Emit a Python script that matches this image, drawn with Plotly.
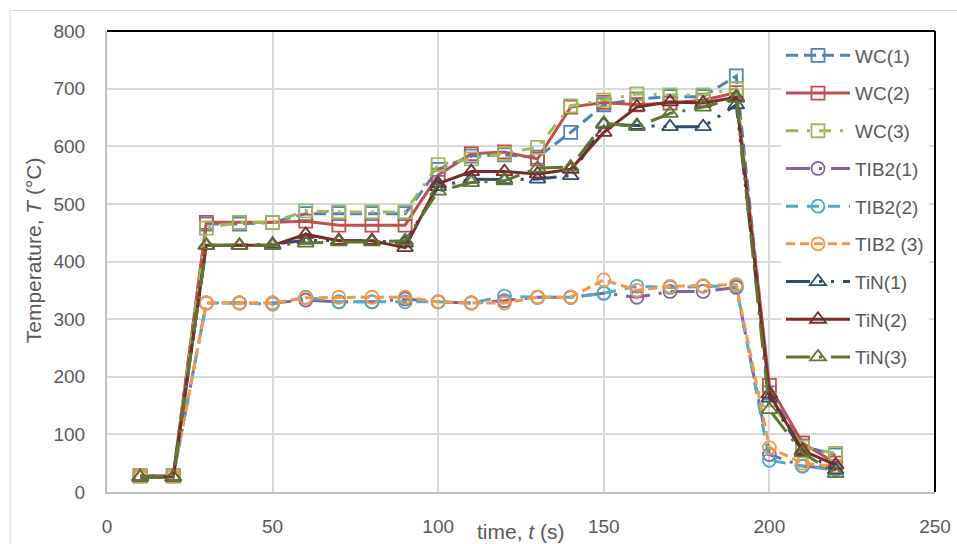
import plotly.graph_objects as go

time_s = [10, 20, 30, 40, 50, 60, 70, 80, 90, 100, 110, 120, 130, 140, 150, 160, 170, 180, 190, 200, 210, 220]

wc_1 = [28, 28, 465, 465, 468, 483, 483, 483, 483, 560, 583, 585, 581, 624, 672, 682, 686, 686, 722, 172, 80, 64]
wc_2 = [28, 28, 468, 468, 468, 470, 463, 463, 463, 550, 587, 590, 578, 668, 676, 672, 675, 680, 693, 185, 85, 50]
wc_3 = [28, 28, 458, 468, 468, 488, 486, 486, 486, 568, 578, 587, 598, 670, 680, 691, 689, 689, 700, 160, 78, 67]
tib2_1 = [28, 28, 328, 328, 328, 333, 330, 330, 335, 330, 328, 332, 338, 338, 345, 338, 348, 348, 355, 65, 45, 40]
tib2_2 = [28, 28, 328, 328, 326, 338, 330, 330, 330, 330, 328, 340, 338, 338, 345, 357, 355, 357, 358, 55, 45, 38]
tib2_3 = [28, 28, 328, 328, 328, 337, 338, 338, 338, 330, 328, 328, 338, 338, 368, 350, 357, 358, 360, 77, 50, 45]
tin_1 = [26, 26, 428, 428, 430, 437, 436, 436, 432, 530, 543, 542, 543, 549, 638, 636, 634, 634, 672, 163, 70, 38]
tin_2 = [26, 26, 428, 428, 428, 447, 436, 436, 424, 535, 556, 556, 552, 560, 624, 668, 677, 675, 685, 170, 72, 47]
tin_3 = [26, 26, 428, 428, 428, 432, 434, 434, 436, 522, 537, 540, 562, 564, 640, 634, 657, 668, 683, 143, 68, 32]

series_names = ["WC(1)", "WC(2)", "WC(3)", "TIB2(1)", "TIB2(2)", "TIB2 (3)", "TiN(1)", "TiN(2)", "TiN(3)"]
series_values = [wc_1, wc_2, wc_3, tib2_1, tib2_2, tib2_3, tin_1, tin_2, tin_3]
series_colors = ["#4F81BD", "#C0504D", "#9BBB59", "#8064A2", "#4BACC6", "#F79646", "#2C4D75", "#772C2A", "#5F7530"]
series_symbols = ["square-open", "square-open", "square-open", "circle-open", "circle-open", "circle-open",
                  "triangle-up-open", "triangle-up-open", "triangle-up-open"]
series_dash = ["12px,6px", "solid", "12px,9px,3px,9px", "24px,9px,3px,9px", "12px,9px", "9px,5px",
               "24px,9px,3px,9px,3px,9px", "solid", "24px,9px,3px,9px"]

FONT = "Liberation Sans"
GRAY_TXT = "#595959"

fig = go.Figure()
for i, (name, vals, col, sym, dash) in enumerate(zip(series_names, series_values, series_colors, series_symbols, series_dash)):
    fig.add_trace(go.Scatter(
        x=time_s, y=vals, name=name, mode="lines+markers",
        legendgroup=f"g{i}",
        line=dict(color=col, width=3, dash=dash),
        marker=dict(symbol=sym, size=13 if "triangle" not in sym else 14, color=col,
                    line=dict(width=1.8, color=col)),
    ))

# paper-coordinate helpers (plot area: x 107..935 px, y 30.5..492 px)
L, R, T, B = 107, 935, 30.5, 492
def px_x(p):
    return (p - L) / (R - L)
def px_y(p):
    return (B - p) / (B - T)

fig.update_layout(
    width=957, height=544,
    margin=dict(l=L, r=957 - R, t=T, b=544 - B),
    plot_bgcolor="white", paper_bgcolor="white",
    font=dict(family=FONT, size=19, color=GRAY_TXT),
    showlegend=True,
    legend=dict(
        x=px_x(781), y=px_y(36), xanchor="left", yanchor="top",
        bgcolor="white", borderwidth=0,
        font=dict(family=FONT, size=19, color=GRAY_TXT),
        itemwidth=64, tracegroupgap=10, traceorder="grouped",
    ),
    xaxis=dict(
        range=[0, 250], dtick=50, tick0=0, automargin=False,
        showgrid=True, gridcolor="#D9D9D9", gridwidth=1.5,
        showline=True, linecolor="#BFBFBF", linewidth=2,
        zeroline=False, ticks="", ticklabelstandoff=16,
        tickfont=dict(family=FONT, size=19, color=GRAY_TXT),
    ),
    yaxis=dict(
        range=[0, 800], dtick=100, tick0=0, automargin=False,
        showgrid=True, gridcolor="#D9D9D9", gridwidth=1.5,
        showline=True, linecolor="#BFBFBF", linewidth=2,
        zeroline=False, ticks="", ticklabelstandoff=16,
        tickfont=dict(family=FONT, size=19, color=GRAY_TXT),
    ),
    shapes=[
        # white legend backdrop covering gridlines
        dict(type="rect", xref="paper", yref="paper", x0=px_x(770), x1=px_x(929), y0=px_y(372), y1=px_y(33),
             fillcolor="white", line=dict(width=0), layer="between"),
        # black top and right border of plot area
        dict(type="line", xref="paper", yref="paper", x0=0, x1=1, y0=1, y1=1, line=dict(color="black", width=2)),
        dict(type="line", xref="paper", yref="paper", x0=1, x1=1, y0=0, y1=1, line=dict(color="black", width=2)),
        # outer chart border
        dict(type="rect", xref="paper", yref="paper", x0=px_x(10), x1=px_x(962), y0=px_y(560), y1=px_y(10),
             line=dict(color="#D9D9D9", width=1), fillcolor="rgba(0,0,0,0)", layer="below"),
    ],
    annotations=[
        dict(text="Temperature, <i>T</i> (°C)", xref="paper", yref="paper", x=px_x(33), y=px_y(250),
             textangle=-90, showarrow=False, xanchor="center", yanchor="middle",
             font=dict(family=FONT, size=21, color=GRAY_TXT)),
        dict(text="time, <i>t</i> (s)", xref="paper", yref="paper", x=px_x(521), y=px_y(532),
             showarrow=False, xanchor="center", yanchor="middle",
             font=dict(family=FONT, size=21, color=GRAY_TXT)),
    ],
)

fig.write_html("out.html", config={"displayModeBar": False},
               post_script="document.body.style.margin='0';document.body.style.overflow='hidden';")
